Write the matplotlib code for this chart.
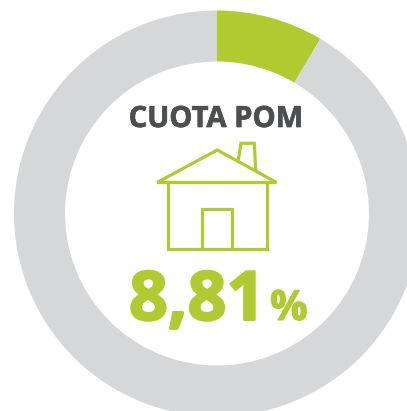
import matplotlib
matplotlib.use("Agg")
import matplotlib.pyplot as plt
import matplotlib.patheffects as pe

W, H = 407, 411
DPI = 100

# Data
share_labels = ["POM", "Resto"]
share_values = [8.5, 91.5]
share_colors = ["#B2CA32", "#D6D7D9"]
title_text = "CUOTA POM"
value_text = "8,81"
unit_text = "%"

# House icon outline, in pixels
roof_x = [157, 217.3, 276.5, 157]
roof_y = [182.5, 150, 182.5, 182.5]
walls_x = [167.7, 167.7, 266.7, 266.7]
walls_y = [182.5, 249.3, 249.3, 182.5]
door_x = [202, 202, 232, 232]
door_y = [249.3, 208.7, 208.7, 249.3]
chimney_x = [238.3, 241, 254.3, 255.7]
chimney_y = [160, 143.3, 143.3, 171]

GREEN = "#B2CA32"
GREY = "#4D4E50"

fig = plt.figure(figsize=(W / DPI, H / DPI), dpi=DPI, facecolor="white")
ax = fig.add_axes([0, 0, 1, 1])

R_OUT, R_IN = 203, 152
# y axis is inverted, so a counter-clockwise pie here runs clockwise on screen
ax.pie(share_values, colors=share_colors, center=(217, 213.5), radius=R_OUT,
       startangle=-90, counterclock=True,
       wedgeprops=dict(width=R_OUT - R_IN, linewidth=0),
       frame=True)
ax.set_xlim(0, W)
ax.set_ylim(H, 0)
ax.set_aspect("auto")
ax.axis("off")

for xs, ys in [(roof_x, roof_y), (walls_x, walls_y), (door_x, door_y), (chimney_x, chimney_y)]:
    ax.plot(xs, ys, color=GREEN, lw=2.3, solid_joinstyle="miter", solid_capstyle="butt")

ax.text(216, 127, title_text, family="Open Sans", weight="bold", fontsize=21,
        color=GREY, ha="center", va="baseline",
        path_effects=[pe.withStroke(linewidth=0.5, foreground=GREY)])
ax.text(129, 320, value_text, family="Open Sans", weight="bold", fontsize=49,
        color=GREEN, ha="left", va="baseline",
        path_effects=[pe.withStroke(linewidth=1.6, foreground=GREEN)])
ax.text(270, 320, unit_text, family="Open Sans", weight="bold", fontsize=30,
        color=GREEN, ha="left", va="baseline",
        path_effects=[pe.withStroke(linewidth=0.8, foreground=GREEN)])

fig.savefig("out.png", dpi=DPI, facecolor="white")
